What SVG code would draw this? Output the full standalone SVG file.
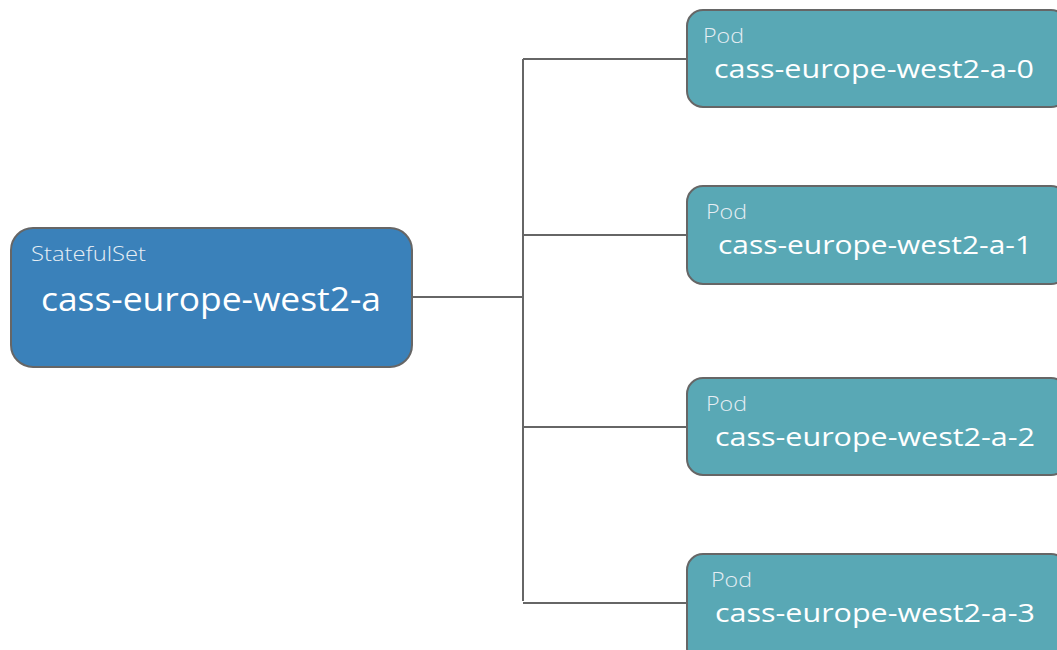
<svg xmlns="http://www.w3.org/2000/svg" width="1057" height="650" viewBox="0 0 1057 650">
  <style>
    .set { fill: #3a81ba; stroke: #666; stroke-width: 2; }
    .pod { fill: #59a8b5; stroke: #666; stroke-width: 2; }
    .kind { font-family: "Open Sans", "Noto Sans", sans-serif; font-weight: 300; font-size: 20px; fill: #e6eef4; }
    .name { font-family: "Open Sans", "Noto Sans", sans-serif; font-weight: 400; fill: #ffffff; }
    .wire { fill: none; stroke: #666; stroke-width: 2; }
  </style>
  <rect width="1057" height="650" fill="#ffffff"/>

  <g id="connectors">
    <path class="wire" d="M412 297 H523"/>
    <path class="wire" d="M523 59 V601"/>
    <path class="wire" d="M523 59 H687"/>
    <path class="wire" d="M523 235 H687"/>
    <path class="wire" d="M523 427 H687"/>
    <path class="wire" d="M523 603 H687"/>
  </g>

  <g id="statefulset">
    <rect class="set" x="11" y="228" width="401" height="139" rx="22"/>
    <text class="kind" x="31" y="261" textLength="115" lengthAdjust="spacingAndGlyphs">StatefulSet</text>
    <text class="name" x="41" y="311" font-size="33" textLength="340" lengthAdjust="spacingAndGlyphs">cass-europe-west2-a</text>
  </g>

  <g id="pod-0">
    <rect class="pod" x="687" y="10" width="380" height="97" rx="16"/>
    <text class="kind" x="703" y="43" textLength="41" lengthAdjust="spacingAndGlyphs">Pod</text>
    <text class="name" x="714" y="78" font-size="26" textLength="320" lengthAdjust="spacingAndGlyphs">cass-europe-west2-a-0</text>
  </g>

  <g id="pod-1">
    <rect class="pod" x="687" y="186" width="380" height="98" rx="16"/>
    <text class="kind" x="706" y="219" textLength="41" lengthAdjust="spacingAndGlyphs">Pod</text>
    <text class="name" x="718" y="254" font-size="26" textLength="314" lengthAdjust="spacingAndGlyphs">cass-europe-west2-a-1</text>
  </g>

  <g id="pod-2">
    <rect class="pod" x="687" y="378" width="380" height="97" rx="16"/>
    <text class="kind" x="706" y="411" textLength="41" lengthAdjust="spacingAndGlyphs">Pod</text>
    <text class="name" x="715" y="446" font-size="26" textLength="320" lengthAdjust="spacingAndGlyphs">cass-europe-west2-a-2</text>
  </g>

  <g id="pod-3">
    <rect class="pod" x="687" y="554" width="380" height="110" rx="16"/>
    <text class="kind" x="711" y="587" textLength="41" lengthAdjust="spacingAndGlyphs">Pod</text>
    <text class="name" x="715" y="622" font-size="26" textLength="320" lengthAdjust="spacingAndGlyphs">cass-europe-west2-a-3</text>
  </g>
</svg>
